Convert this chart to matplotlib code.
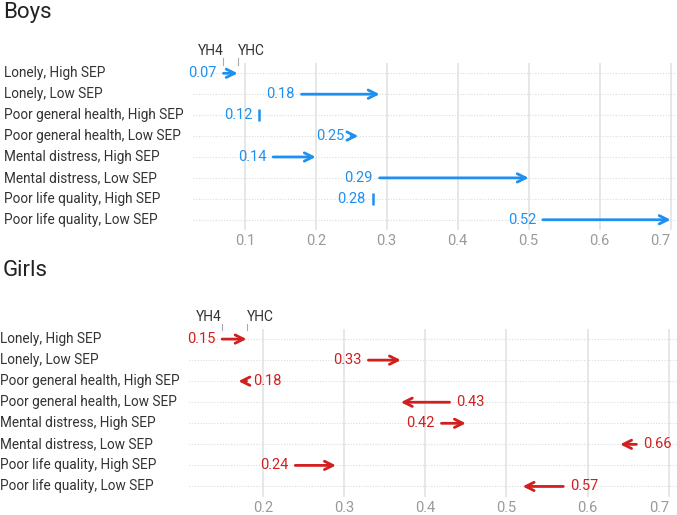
import matplotlib
matplotlib.use("Agg")
from matplotlib import pyplot as plt
import matplotlib.transforms as mtransforms

plt.rcParams['font.family'] = ['Roboto', 'DejaVu Sans']

categories = ["Lonely, High SEP", "Lonely, Low SEP",
              "Poor general health, High SEP", "Poor general health, Low SEP",
              "Mental distress, High SEP", "Mental distress, Low SEP",
              "Poor life quality, High SEP", "Poor life quality, Low SEP"]

# YH4 -> YHC
boys_yh4 = [0.07, 0.18, 0.12, 0.25, 0.14, 0.29, 0.28, 0.52]
boys_yhc = [0.09, 0.29, 0.12, 0.26, 0.20, 0.50, 0.28, 0.70]
girls_yh4 = [0.15, 0.33, 0.18, 0.43, 0.42, 0.66, 0.24, 0.57]
girls_yhc = [0.18, 0.37, 0.17, 0.37, 0.45, 0.64, 0.29, 0.52]

xticks = [0.1, 0.2, 0.3, 0.4, 0.5, 0.6, 0.7]

blue = "#1E90F0"
red = "#D11F1F"
txt = "#333333"
tick_col = "#9a9a9a"

fig = plt.figure(figsize=(6.77, 5.15), dpi=100)


def panel(rect, title, title_y, label_x, start, end, col, xlim):
    ax = fig.add_axes(rect)
    ax.set_xlim(*xlim)
    ax.set_ylim(len(categories) - 0.5, -0.5)
    for s in ax.spines.values():
        s.set_visible(False)
    ax.set_xticks([t for t in xticks if xlim[0] <= t <= xlim[1]])
    ax.set_xticklabels([f"{t:.1f}" for t in ax.get_xticks()])
    ax.tick_params(axis='x', length=0, colors=tick_col, labelsize=10.5, pad=3)
    # last label would run past the edge, keep it inside
    ax.get_xticklabels()[-1].set_horizontalalignment('right')
    ax.set_yticks([])
    for t in ax.get_xticks():
        ax.axvline(t, color="#e3e3e3", lw=1.2, zorder=0)
    trans = mtransforms.blended_transform_factory(fig.transFigure, ax.transData)
    for i, c in enumerate(categories):
        ax.axhline(i, color="#dcdcdc", lw=0.8, ls=(0, (1, 1.5)), zorder=0)
        ax.text(label_x, i, c, transform=trans, ha='left', va='center',
                fontsize=9.8, color=txt)
        s, e = start[i], end[i]
        if abs(e - s) < 0.005:
            ax.plot([s], [i], marker='|', ms=8, mew=1.8, color=col)
            ax.annotate(f"{s:.2f}", (s, i), xytext=(-5, 0), textcoords='offset points',
                        ha='right', va='center', color=col, fontsize=10.5)
        else:
            ax.annotate("", xy=(e, i), xytext=(s, i),
                        arrowprops=dict(arrowstyle="->", color=col, lw=2,
                                        shrinkA=0, shrinkB=0, mutation_scale=15))
            if e > s:
                ax.annotate(f"{s:.2f}", (s, i), xytext=(-5, 0), textcoords='offset points',
                            ha='right', va='center', color=col, fontsize=10.5)
            else:
                ax.annotate(f"{s:.2f}", (s, i), xytext=(5, 0), textcoords='offset points',
                            ha='left', va='center', color=col, fontsize=10.5)
    # YH4 / YHC key over the first row
    for x, lab, ha in [(start[0], "YH4", 'right'), (end[0], "YHC", 'left')]:
        ax.plot([x, x], [-0.72, -0.42], color="#aaaaaa", lw=0.8, clip_on=False)
        ax.text(x, -1.05, lab, ha=ha, va='center', fontsize=10, color=txt)
    fig.text(0.004, title_y, title, fontsize=16, color="#222222", ha='left', va='center')
    return ax


panel([0.285, 0.553, 0.715, 0.325], "Boys", 0.975, 0.006, boys_yh4, boys_yhc, blue,
      (0.027, 0.709))
panel([0.279, 0.035, 0.721, 0.327], "Girls", 0.475, 0.0, girls_yh4, girls_yhc, red,
      (0.109, 0.710))

fig.savefig("out.png", dpi=100)
